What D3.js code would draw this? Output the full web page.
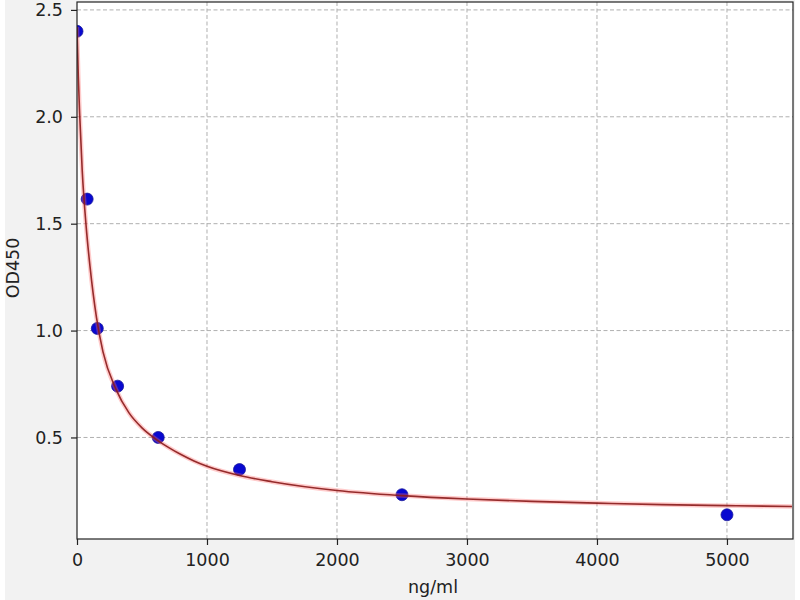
<!DOCTYPE html>
<html>
<head>
<meta charset="utf-8">
<script src="https://cdn.jsdelivr.net/npm/d3@7"></script>
<style>
  body { margin: 0; background: #ffffff; }
  svg { display: block; }
  text { font-family: "DejaVu Sans", sans-serif; fill: #222; }
</style>
</head>
<body>
<svg id="chart" width="800" height="600"></svg>
<script>
// Standard concentrations (ng/ml) and measured OD450
const concentrations = [0, 78.125, 156.25, 312.5, 625, 1250, 2500, 5000];
const odValues = [2.40, 1.615, 1.01, 0.74, 0.50, 0.35, 0.232, 0.138];

// Fitted curve
const curveX = [0, 10, 20, 40, 70, 100, 150, 200, 300, 400, 500, 600, 700, 800, 900, 1000, 1250, 1500, 2000, 2500, 3000, 3500, 4000, 4500, 5000, 5500];
const curveY = [2.42, 2.19, 2.02, 1.75, 1.49, 1.30, 1.06, 0.90, 0.725, 0.615, 0.545, 0.495, 0.455, 0.42, 0.39, 0.365, 0.322, 0.293, 0.252, 0.228, 0.212, 0.201, 0.193, 0.186, 0.181, 0.177];

const xTicks = [0, 1000, 2000, 3000, 4000, 5000];
const yTicks = [0.5, 1.0, 1.5, 2.0, 2.5];

const svg = d3.select("#chart");
const L = 77, R = 793, T = 2, B = 539;

svg.append("rect").attr("x", 5).attr("y", 0).attr("width", 790).attr("height", 600).attr("fill", "#f2f2f2");
svg.append("rect").attr("x", L).attr("y", T).attr("width", R - L).attr("height", B - T).attr("fill", "#ffffff");

const x = d3.scaleLinear().domain([0, 5508]).range([L, R]);
const y = d3.scaleLinear().domain([0.025, 2.537]).range([B, T]);

// grid
const grid = svg.append("g");
grid.selectAll(".gx").data(xTicks.filter(d => d > 0)).enter().append("line")
  .attr("x1", d => x(d)).attr("x2", d => x(d)).attr("y1", T).attr("y2", B)
  .attr("stroke", "#b0b0b0").attr("stroke-width", 1).attr("stroke-dasharray", "4,2.5");
grid.selectAll(".gy").data(yTicks).enter().append("line")
  .attr("x1", L).attr("x2", R).attr("y1", d => y(d)).attr("y2", d => y(d))
  .attr("stroke", "#b0b0b0").attr("stroke-width", 1).attr("stroke-dasharray", "4,2.5");

// points
svg.append("clipPath").attr("id", "clip").append("rect")
  .attr("x", L).attr("y", T).attr("width", R - L).attr("height", B - T);
const pts = svg.append("g").attr("clip-path", "url(#clip)");
pts.selectAll("circle").data(concentrations).enter().append("circle")
  .attr("cx", d => x(d)).attr("cy", (d, i) => y(odValues[i])).attr("r", 6)
  .attr("fill", "#0808d0").attr("stroke", "#1a1a9a").attr("stroke-width", 0.8);

// curve
const line = d3.line().x((d, i) => x(curveX[i])).y(d => y(d)).curve(d3.curveMonotoneX);
const cg = svg.append("g").attr("clip-path", "url(#clip)");
cg.append("path").attr("d", line(curveY)).attr("fill", "none")
  .attr("stroke", "#ff6b6b").attr("stroke-opacity", 0.35).attr("stroke-width", 4.5);
cg.append("path").attr("d", line(curveY)).attr("fill", "none")
  .attr("stroke", "#8a1a1a").attr("stroke-opacity", 0.9).attr("stroke-width", 1.6);

// axes
const xAxis = d3.axisBottom(x).tickValues(xTicks).tickFormat(d3.format("d")).tickSize(6).tickPadding(9);
const yAxis = d3.axisLeft(y).tickValues(yTicks).tickFormat(d3.format(".1f")).tickSize(6).tickPadding(8);
const gx = svg.append("g").attr("transform", `translate(0,${B})`).call(xAxis);
const gy = svg.append("g").attr("transform", `translate(${L},0)`).call(yAxis);
[gx, gy].forEach(g => {
  g.attr("font-size", null).attr("font-family", null);
  g.select(".domain").remove();
  g.selectAll(".tick line").attr("stroke", "#222").attr("stroke-width", 1.2);
  g.selectAll(".tick text").style("font-family", "DejaVu Sans, sans-serif").style("font-size", "17.5px").attr("fill", "#222");
});

// frame
svg.append("rect").attr("x", L).attr("y", T).attr("width", R - L).attr("height", B - T)
  .attr("fill", "none").attr("stroke", "#222").attr("stroke-width", 1.2);

// labels
svg.append("text").attr("x", (L + R) / 2 - 2).attr("y", 593).attr("text-anchor", "middle")
  .style("font-size", "17.5px").text("ng/ml");
svg.append("text").attr("transform", `translate(19,268) rotate(-90)`).attr("text-anchor", "middle")
  .style("font-size", "17.5px").text("OD450");
</script>
</body>
</html>
